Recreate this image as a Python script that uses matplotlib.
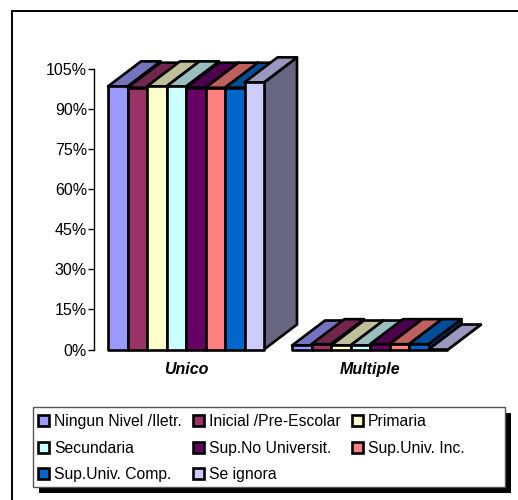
#!/usr/bin/env python
# -*- coding: utf-8 -*-
import matplotlib
matplotlib.use("Agg")
import matplotlib.pyplot as plt
from matplotlib.patches import Polygon, Patch, Rectangle

categories = ["Unico", "Multiple"]
series = ["Ningun Nivel /Iletr.", "Inicial /Pre-Escolar", "Primaria", "Secundaria",
          "Sup.No Universit.", "Sup.Univ. Inc.", "Sup.Univ. Comp.", "Se ignora"]
colors = ["#9999FF", "#993366", "#FFFFCC", "#CCFFFF", "#660066", "#FF8080", "#0066CC", "#CCCCFF"]
top_colors = ["#7373BF", "#73264D", "#BFBF99", "#99BFBF", "#4D004D", "#BF6060", "#004D99", "#9999BF"]
side_colors = ["#666699", "#4D1A33", "#808066", "#668080", "#330033", "#804040", "#003366", "#666680"]

unico = [98.5, 98.0, 98.5, 98.5, 98.0, 98.0, 98.0, 100.0]
multiple = [1.5, 2.0, 1.5, 1.5, 2.0, 2.0, 2.0, 0.0]
values = [unico, multiple]

yticks = [0, 15, 30, 45, 60, 75, 90, 105]

W, H = 518, 500
plt.rcParams["font.family"] = ["Liberation Sans", "DejaVu Sans"]

fig = plt.figure(figsize=(W / 100, H / 100), dpi=100, facecolor="white")


def fig_rect(x0, y0, x1, y1, **kw):
    # rectangulo en pixeles de la imagen (origen arriba a la izquierda)
    fig.add_artist(Rectangle((x0 / W, 1 - y1 / H), (x1 - x0) / W, (y1 - y0) / H,
                             transform=fig.transFigure, **kw))


# marco exterior del grafico
fig_rect(12, 11, 520, 503, fc="white", ec="black", lw=1.4, zorder=-3)

# caja de la leyenda con su sombra
fig_rect(39, 413, 511, 493, fc="black", ec="black", lw=0, zorder=-2)
fig_rect(33, 407, 505, 487, fc="white", ec="#555555", lw=1, zorder=-1)

left, right, top, bottom = 94, 462, 69, 349.5
ax = fig.add_axes([left / W, 1 - bottom / H, (right - left) / W, (bottom - top) / H])
ax.set_xlim(0, 2)
ax.set_ylim(0, 105)
ax.patch.set_visible(False)

bar_w = 19.5 / 184
gap = 14 / 184
dx = 33 / 184           # profundidad 3D
dy = 25 / (280.5 / 105)


def draw_bar(x0, v, i):
    x1 = x0 + bar_w
    kw = dict(ec="black", lw=1.9, joinstyle="round", clip_on=False, zorder=3 + i * 0.01)
    ax.add_patch(Polygon([(x1, 0), (x1 + dx, dy), (x1 + dx, v + dy), (x1, v)], fc=side_colors[i], **kw))
    ax.add_patch(Polygon([(x0, v), (x0 + dx, v + dy), (x1 + dx, v + dy), (x1, v)], fc=top_colors[i], **kw))
    ax.add_patch(Rectangle((x0, 0), bar_w, v, fc=colors[i], **kw))


for c, vals in enumerate(values):
    for i, v in enumerate(vals):
        draw_bar(c + gap + i * bar_w, v, i)

for s in ["top", "right", "bottom"]:
    ax.spines[s].set_visible(False)
ax.spines["left"].set_linewidth(1)
ax.set_yticks(yticks)
ax.set_yticklabels([f"{t}%" for t in yticks], fontsize=11.5, color="black")
ax.tick_params(axis="y", length=4, width=1, pad=1)
ax.set_xticks([0.5, 1.5])
ax.set_xticklabels(categories, fontsize=11.5, fontstyle="italic", fontweight="bold")
ax.tick_params(axis="x", length=0, pad=9)

# la leyenda llena por columnas, se reordena para leer por filas
order = [0, 3, 6, 1, 4, 7, 2, 5]
handles = [Patch(fc=colors[i], ec="black", lw=1.9, label=series[i]) for i in order]
leg = fig.legend(handles=handles, ncols=3, loc="upper left",
                 bbox_to_anchor=(31 / W, 1 - 407 / H),
                 fontsize=11.3, frameon=False,
                 handlelength=0.72, handleheight=0.72, handletextpad=0.3,
                 columnspacing=0.72, labelspacing=0.74, borderpad=0.45, borderaxespad=0)

fig.savefig("out.png", dpi=100)
